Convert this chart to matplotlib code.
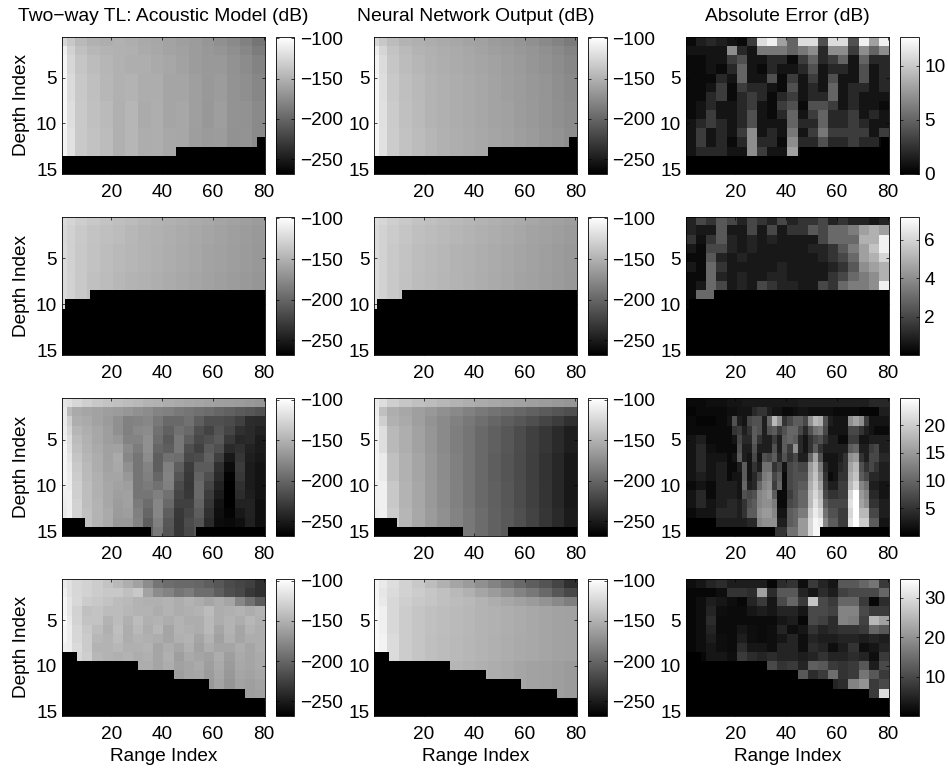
import numpy as np
import matplotlib
matplotlib.use("Agg")
import matplotlib.pyplot as plt

plt.rcParams['font.family'] = ['Liberation Sans', 'DejaVu Sans']
FS = 13.7

COL_TITLES = ["Two\u2212way TL: Acoustic Model (dB)", "Neural Network Output (dB)", "Absolute Error (dB)"]
X_TICKS = [20, 40, 60, 80]
Y_TICKS = [5, 10, 15]
TL_TICKS = [-100, -150, -200, -250]
TL_LIM = (-268, -98)
ERR_TICKS = [[0, 5, 10], [2, 4, 6], [5, 10, 15, 20], [10, 20, 30]]
ERR_LIM = [(0, 12.7), (0, 7.2), (0, 24.9), (0, 34.8)]

# seabed: (first range index, first black depth index) steps for each row of panels
FLOOR_COLS = [[1, 46, 78], [1, 2, 12], [1, 10, 36, 54], [1, 7, 31, 45, 59, 73]]
FLOOR_ROWS = [[14, 13, 12], [11, 10, 9], [14, 15, 16, 15], [9, 10, 11, 12, 13, 14]]

# block sizes of the hand-read tables (range indices / depth indices)
W17 = [2, 3, 5] + [5] * 14
W21 = [2, 2] + [4] * 19
W20 = [4] * 20
W40 = [2] * 40

TL1_MODEL_H = [1, 1, 2, 3, 3, 3, 2]
TL1_MODEL = [
    [-125,-135,-145,-150,-152,-150,-152,-155,-157,-159,-162,-164,-168,-172,-176,-182,-190],
    [-108,-128,-140,-146,-149,-150,-151,-154,-156,-159,-161,-164,-167,-169,-173,-178,-185],
    [-105,-125,-137,-143,-147,-150,-152,-152,-155,-157,-160,-164,-166,-166,-171,-175,-180],
    [-104,-122,-135,-141,-146,-150,-149,-153,-153,-158,-158,-162,-166,-164,-170,-173,-178],
    [-104,-120,-134,-140,-144,-151,-147,-154,-152,-158,-157,-162,-167,-163,-170,-171,-176],
    [-106,-118,-134,-139,-143,-151,-147,-153,-152,-156,-157,-163,-165,-164,-171,-170,-176],
    [-268]*17,
]
TL1_NN_H = TL1_MODEL_H
TL1_NN = [
    [-125,-135,-143,-148,-151,-153,-155,-157,-159,-161,-164,-166,-169,-172,-176,-181,-186],
    [-110,-126,-138,-144,-148,-151,-153,-155,-157,-159,-162,-164,-167,-169,-172,-176,-181],
    [-106,-122,-136,-143,-147,-150,-152,-154,-156,-158,-160,-163,-165,-168,-171,-174,-178],
    [-104,-120,-134,-141,-145,-149,-151,-153,-155,-157,-159,-162,-164,-167,-169,-173,-176],
    [-104,-119,-133,-140,-144,-148,-151,-153,-155,-157,-159,-161,-164,-166,-169,-172,-175],
    [-105,-118,-132,-139,-143,-147,-150,-152,-154,-156,-158,-160,-163,-165,-168,-170,-174],
    [-268]*17,
]
TL2_MODEL_H = [1, 2, 3, 4, 5]
TL2_MODEL = [
    [-122,-126,-131,-135,-138,-141,-143,-146,-148,-150,-152,-154,-156,-158,-160,-162,-164],
    [-124,-129,-134,-138,-141,-143,-146,-148,-150,-152,-154,-156,-158,-160,-162,-164,-166],
    [-123,-129,-135,-139,-142,-145,-147,-149,-151,-153,-155,-157,-159,-161,-163,-165,-167],
    [-123,-128,-135,-140,-143,-146,-148,-150,-152,-154,-156,-158,-160,-162,-164,-166,-168],
    [-268]*17,
]
TL2_NN_H = TL2_MODEL_H
TL2_NN = [
    [-121,-125,-130,-134,-138,-140,-143,-145,-147,-149,-151,-153,-155,-157,-159,-161,-163],
    [-123,-128,-133,-137,-141,-143,-145,-147,-149,-151,-153,-155,-157,-159,-161,-163,-165],
    [-122,-128,-134,-138,-142,-144,-146,-148,-150,-152,-154,-156,-158,-160,-162,-164,-166],
    [-122,-128,-134,-139,-143,-145,-147,-149,-151,-153,-155,-157,-159,-161,-163,-165,-167],
    [-268]*17,
]
TL3_MODEL = [
    [-115,-118,-125,-130,-135,-138,-140,-143,-145,-148,-150,-153,-155,-157,-158,-160,-162,-163,-164,-166,-168],
    [-112,-145,-155,-158,-160,-163,-165,-168,-172,-175,-180,-183,-187,-190,-193,-196,-200,-203,-207,-210,-213],
    [-112,-130,-152,-155,-160,-165,-172,-182,-180,-178,-188,-198,-198,-192,-205,-215,-215,-218,-225,-238,-240],
    [-110,-125,-147,-152,-157,-163,-172,-183,-177,-175,-192,-203,-192,-198,-215,-223,-212,-222,-235,-240,-245],
    [-108,-120,-143,-150,-157,-163,-167,-180,-180,-172,-195,-208,-188,-205,-220,-215,-208,-230,-242,-240,-250],
    [-105,-118,-140,-148,-155,-161,-160,-175,-185,-172,-200,-205,-188,-215,-225,-207,-215,-240,-235,-245,-250],
    [-105,-115,-137,-147,-153,-161,-155,-178,-190,-175,-205,-192,-195,-220,-217,-203,-225,-252,-232,-248,-252],
    [-105,-112,-134,-145,-153,-160,-156,-172,-190,-180,-205,-183,-205,-228,-207,-207,-235,-260,-228,-250,-255],
    [-105,-110,-132,-144,-151,-158,-158,-167,-190,-183,-200,-181,-212,-230,-202,-215,-240,-266,-230,-250,-255],
    [-107,-110,-130,-142,-150,-157,-160,-163,-190,-186,-192,-183,-218,-232,-198,-222,-245,-268,-235,-250,-255],
    [-108,-108,-130,-142,-150,-157,-162,-161,-190,-190,-183,-192,-222,-230,-197,-228,-250,-268,-238,-248,-255],
    [-110,-108,-128,-142,-148,-157,-164,-161,-186,-195,-179,-198,-225,-225,-201,-232,-255,-268,-245,-245,-258],
    [-112,-108,-128,-140,-148,-155,-165,-163,-183,-200,-179,-205,-230,-222,-206,-235,-258,-265,-252,-245,-258],
    [-268,-268,-268,-140,-148,-155,-167,-167,-180,-205,-183,-210,-232,-218,-211,-240,-260,-262,-258,-246,-258],
    [-268,-268,-268,-140,-148,-155,-167,-167,-180,-205,-187,-212,-232,-220,-211,-240,-260,-262,-258,-246,-258],
]
TL3_NN_H = [1, 1, 1, 3, 3, 3, 3]
TL3_NN = [
    [-112,-120,-130,-136,-140,-143,-146,-149,-152,-154,-156,-158,-160,-162,-164,-166,-168],
    [-110,-140,-152,-157,-162,-167,-172,-177,-182,-187,-191,-195,-199,-203,-207,-211,-215],
    [-108,-130,-150,-155,-162,-170,-176,-182,-188,-194,-200,-205,-210,-215,-222,-228,-235],
    [-106,-120,-145,-152,-160,-168,-176,-184,-190,-198,-204,-210,-217,-225,-232,-240,-248],
    [-105,-112,-140,-150,-158,-167,-175,-183,-190,-198,-205,-211,-218,-226,-234,-242,-252],
    [-108,-108,-135,-148,-157,-166,-174,-182,-190,-197,-204,-210,-217,-225,-233,-242,-252],
    [-110,-108,-132,-147,-156,-165,-172,-180,-188,-196,-203,-208,-215,-223,-232,-240,-250],
]
TL4_MODEL = [
    [-112,-118,-125,-128,-132,-138,-145,-152,-160,-175,-190,-195,-197,-198,-200,-205,-210,-218,-222,-225,-235],
    [-108,-118,-125,-128,-132,-135,-135,-140,-135,-160,-175,-180,-190,-185,-195,-195,-205,-215,-220,-230,-235],
    [-105,-115,-124,-132,-135,-138,-143,-145,-148,-151,-151,-148,-153,-148,-153,-158,-153,-158,-178,-192,-207],
    [-105,-115,-128,-140,-138,-143,-143,-146,-149,-149,-153,-148,-153,-151,-148,-143,-153,-151,-148,-153,-148],
    [-102,-112,-127,-138,-138,-148,-143,-151,-143,-151,-148,-153,-148,-153,-153,-145,-153,-148,-153,-146,-151],
    [-105,-110,-125,-135,-143,-151,-141,-153,-145,-153,-146,-158,-148,-151,-153,-145,-158,-148,-158,-149,-153],
    [-105,-110,-125,-133,-146,-148,-143,-153,-148,-151,-153,-158,-151,-149,-158,-148,-161,-151,-158,-153,-153],
    [-108,-110,-123,-133,-148,-148,-146,-151,-151,-148,-158,-153,-158,-151,-161,-153,-158,-158,-153,-158,-153],
    [-110,-112,-125,-131,-146,-149,-151,-148,-153,-151,-158,-151,-163,-155,-158,-161,-153,-163,-155,-158,-155],
    [-110,-112,-125,-131,-146,-149,-151,-148,-153,-153,-158,-153,-161,-158,-155,-163,-155,-165,-156,-158,-155],
    [-110,-112,-125,-131,-146,-149,-151,-148,-153,-153,-158,-155,-163,-158,-157,-165,-157,-167,-158,-160,-157],
    [-110,-112,-125,-131,-146,-149,-151,-148,-153,-153,-158,-155,-163,-160,-159,-167,-159,-169,-160,-162,-159],
    [-110,-112,-125,-131,-146,-149,-151,-148,-153,-153,-158,-155,-163,-160,-159,-168,-161,-169,-161,-163,-161],
]
TL4_NN_H = [1, 1, 1, 3, 3, 4]
TL4_NN = [
    [-105,-112,-120,-128,-135,-142,-150,-158,-165,-172,-180,-190,-197,-205,-212,-222,-235],
    [-104,-115,-122,-128,-132,-136,-140,-145,-150,-158,-165,-172,-180,-188,-197,-210,-220],
    [-104,-113,-124,-130,-134,-137,-140,-143,-145,-149,-153,-157,-161,-165,-170,-177,-184],
    [-103,-108,-124,-132,-137,-140,-142,-144,-146,-148,-150,-152,-154,-156,-158,-160,-161],
    [-102,-106,-122,-132,-137,-141,-143,-145,-147,-149,-151,-153,-155,-156,-158,-160,-161],
    [-102,-106,-122,-132,-138,-142,-145,-147,-149,-151,-153,-155,-158,-160,-161,-163,-165],
]
ERR1 = [
    [.5,1.5,2,1.5,1,.5,3,11,12,8,5,11,11,4,11,11,4,12,8,12],
    [1,1,1,1,7,2,1,6,6,6,5,6,7,2,7,7,3,7,5,7],
    [.5,.5,1,1,3,4,1,1,2,2,.5,3,5,2,3,5,1,5,2,2],
    [.5,.5,1,.5,2,5,1,.5,2,1,1,2,4,1,2,2,1,4,1,2],
    [.5,.5,.5,2,1,5,1,1,4,.5,3,1,3,1,4,1,1,4,1,2],
    [.5,.5,1,3,.5,3,2,2,1,.5,4,1,2,1,5,1,2,2,1,2],
    [.5,.5,2,3,.5,2,3,2,.5,2,3,1,2,2,5,1,2,1,1,1],
    [.5,1,2,1,1,2,3,1,.5,3,4,.5,4,4,3,1,2,1,1,.5],
    [.5,1,3,1,1,2,4,1,.5,2,5,1,3,5,2,2,3,1,2,1],
    [1,2,3,2,1,2,4,1,1,1,5,2,2,5,2,2,3,2,1,1],
    [1,3,1,2,1,3,7,1,2,1,6,1,3,6,3,3,3,3,1,3],
    [1,3,1,2,.5,2,7,2,2,.5,7,2,2,4,2,2,3,2,2,.5],
    [1,2,2,2,1,1,7,3,1,1,8,.5,.5,.5,.5,.5,.5,.5,.5,.5],
]
ERR2 = [
    [1,2,1.5,2.5,2,1,2,1.5,1,2,1,1.5,1.5,2,1,1.5,1,1,.7,1],
    [1,.7,.7,2.5,.7,.7,2,.7,2,.7,1.5,1.5,2.5,2,3,3,3.5,4.5,5,4.5],
    [1.5,.5,1.5,2.5,1,.7,1,.7,1,.7,.7,.7,.7,2,3,3,3,5,5,6.8],
    [.7,.3,2,2,1,.7,1,.7,.7,.7,.7,.7,1,1,1.5,2.5,3.5,4.5,5.5,6.8],
    [.3,.3,2.5,1,.7,1,.7,.7,.7,.7,.7,.7,.7,1,1.5,2,3,4.5,5,6],
    [.7,.3,3,1.5,.7,.7,.7,.7,.7,1,.7,.7,.7,.7,1,1.5,2.5,4,4.5,5],
    [.3,.3,3,1,.7,1,.7,.7,1,1,.7,.7,.7,.7,1.5,2,3,3.5,4,5],
    [.3,.7,3,2,.7,1,.7,2,1.5,1,1,.7,.7,2,1.5,3,3.5,3.5,4,6.8],
    [.3,3,3,.3,.3,.3,.3,.3,.3,.3,.3,.3,.3,.3,.3,.3,.3,.3,.3,.3],
    [.3,.3,.3,.3,.3,.3,.3,.3,.3,.3,.3,.3,.3,.3,.3,.3,.3,.3,.3,.3],
]
ERR3 = [
    [1,1,1,1,1.5,1.5,1.5,1.5,2,2,2,2.5,2.5,2.5,2.5,2.5,2.5,2.5,2.5,2.5,2.5,2.5,3,3,3,3,3,3,3,3,3,3,3,3,3,3,4,4,4,4],
    [.5,.5,1,1,1,1,1,1,1.5,1.5,2,2,2,4,5,5,3,2,2,1,1,1.5,2,2,1.5,1.5,1.5,1.5,1.5,1,1,1,1,1,.5,.5,.5,.5,3,3],
    [1,1,.5,.5,.5,.5,1,1,2,8,3,2,7,8,8,3,10,18,14,5,7,9,9,7,14,18,17,8,3,2,2,2,14,16,14,6,2,2,2,2],
    [1,1,1,1,1,1,1,1,1,5,6,3,5,9,8,3,8,9,6,8,10,10,7,4,8,11,12,7,2,2,2,2,7,7,5,3,2,1,1,1],
    [2,2,3,3,1,1,1,1,1,2,7,4,4,9,5,3,3,6,3,9,10,9,4,2,5,7,8,5,3,3,1,1,6,6,2,2,3,3,3,3],
    [2,2,4,4,1.5,1.5,1,1,1,1,8,3,3,8,3,3,3,8,3,9,6,14,4,2,5,9,5,3,3,3,3,3,9,10,3,3,6,7,3,3],
    [2,2,4,4,2,2,2,2,1,2,9,3,2,7,2,8,7,9,4,8,5,7,3,3,10,16,8,2,2,2,3,5,14,15,5,3,7,7,4,4],
    [2,2,4,4,2,2,3,3,1,1,3,9,2,5,3,11,11,5,7,2,7,8,7,7,15,18,12,4,2,2,4,5,16,18,8,5,7,5,3,3],
    [2,2,3,3,2,2,3,3,1,2,2,9,2,4,7,12,13,7,9,1,7,8,8,8,16,19,14,5,1,2,5,5,17,19,9,7,4,4,3,3],
    [1,1,2,2,1,1,3,3,3,3,2,10,3,4,10,13,14,6,10,1,7,8,9,9,17,20,16,6,3,3,6,6,18,21,13,11,3,3,2,2],
    [2,2,4,4,1,1,3,3,3,3,2,8,7,8,13,14,15,9,1,1,6,8,10,10,18,21,18,7,5,5,6,6,21,25,15,13,4,4,2,2],
    [2,2,4,4,2,2,3,3,4,4,3,5,8,9,13,14,14,12,1,1,7,8,10,10,18,22,19,9,7,7,7,7,22,25,16,14,5,5,3,3],
    [1,1,2,2,2,2,4,4,4,4,3,5,9,9,14,15,15,13,2,2,9,10,12,12,20,23,21,11,8,8,6,6,21,25,18,18,7,7,3,3],
    [0,0,0,0,0,0,3,3,3,3,3,3,4,4,13,14,14,14,3,3,9,10,15,15,21,24,23,13,9,9,6,6,22,25,20,20,9,9,2,2],
    [0,0,0,0,0,0,0,0,0,0,0,0,0,0,0,0,0,5,5,5,11,11,15,15,21,24,24,20,0,0,0,0,0,0,0,0,0,0,0,0],
]
ERR4 = [
    [2,3,5,6,4,4,4,4,1,6,7,2,8,5,3,12,12,14,16,8],
    [1,1,1,2,7,7,6,22,6,12,12,5,3,6,4,9,10,10,10,14],
    [1,2,4,3,2,1,5,8,3,10,14,8,27,10,8,14,14,8,1,6],
    [1,2,5,2,1.5,1.5,3,4,3,5,5,3,10,10,9,18,18,10,8,8],
    [1,2,6,1.5,1.5,1.5,1.5,1.5,1.5,3,4,1,10,9,6,18,17,9,25,22],
    [1,2,5,1.5,1.5,3,2,1.5,2,5,2,3,7,5,6,7,7,8,14,12],
    [1,2,4,2,1.5,4,2,1.5,2,3,5,2,5,4,4,5,5,4,5,4],
    [1,2,3,2,1.5,6,3,3,2,5,5,2,6,5,2,4,7,2,3,5],
    [0,1,3,3,2,8,6,5,6,5,5,4,5,7,5,5,6,5,2,8],
    [0,0,0,0,0,0,0,0,10,7,8,5,13,12,8,7,8,12,4,10],
    [0,0,0,0,0,0,0,0,0,0,0,12,6,8,15,7,8,16,12,8],
    [0,0,0,0,0,0,0,0,0,0,0,0,0,0,5,6,18,20,8,10],
    [0,0,0,0,0,0,0,0,0,0,0,0,0,0,0,0,0,0,8,30],
]

PANELS = [
    [(TL1_MODEL, W17, TL1_MODEL_H), (TL1_NN, W17, TL1_NN_H), (ERR1, W20, [1]*13)],
    [(TL2_MODEL, W17, TL2_MODEL_H), (TL2_NN, W17, TL2_NN_H), (ERR2, W20, [1]*10)],
    [(TL3_MODEL, W21, [1]*15), (TL3_NN, W17, TL3_NN_H), (ERR3, W40, [1]*15)],
    [(TL4_MODEL, W21, [1]*13), (TL4_NN, W17, TL4_NN_H), (ERR4, W20, [1]*13)],
]

W, H = 948, 770
AX_X = [(62, 265), (374.3, 576.7), (686, 889)]
CB_X = [(275.7, 294.3), (587.7, 606.5), (900, 918.7)]
AX_Y = [(36.7, 173.7), (216.7, 355), (398.3, 535.7), (579, 716)]

def expand(table, widths, heights, floor_cols, floor_rows, low):
    grid = np.repeat(np.repeat(np.array(table, float), heights, axis=0), widths, axis=1)
    grid = np.vstack([grid, np.full((15 - grid.shape[0], 80), low)]) if grid.shape[0] < 15 else grid
    ends = floor_cols[1:] + [81]
    for start, end, row in zip(floor_cols, ends, floor_rows):
        grid[row - 1:, start - 1:end - 1] = low
    return grid

def rect(x, y):
    return [x[0] / W, 1 - y[1] / H, (x[1] - x[0]) / W, (y[1] - y[0]) / H]

def style(ax):
    for s in ax.spines.values():
        s.set_linewidth(0.6)
    ax.tick_params(direction='in', length=2, width=0.5, top=True, right=True, labelsize=FS)
    ax.tick_params(axis='x', pad=7.5)
    ax.tick_params(axis='y', pad=3.5)

fig = plt.figure(figsize=(W / 100, H / 100), dpi=100)
for r in range(4):
    for c in range(3):
        table, widths, heights = PANELS[r][c]
        lim = TL_LIM if c < 2 else ERR_LIM[r]
        ticks = TL_TICKS if c < 2 else ERR_TICKS[r]
        grid = expand(table, widths, heights, FLOOR_COLS[r], FLOOR_ROWS[r], lim[0])
        ax = fig.add_axes(rect(AX_X[c], AX_Y[r]))
        im = ax.imshow(grid, cmap='gray', vmin=lim[0], vmax=lim[1], aspect='auto',
                       interpolation='nearest', extent=[0.5, 80.5, 15.5, 0.5])
        ax.set_xticks(X_TICKS)
        ax.set_yticks(Y_TICKS)
        style(ax)
        if r == 0:
            ax.set_title(COL_TITLES[c], fontsize=13.85, pad=11)
        if r == 3:
            ax.set_xlabel("Range Index", fontsize=FS, labelpad=3.5)
        if c == 0:
            ax.set_ylabel("Depth Index", fontsize=FS, labelpad=4)
        cax = fig.add_axes(rect(CB_X[c], AX_Y[r]))
        cb = fig.colorbar(im, cax=cax)
        cb.set_ticks(ticks)
        cb.outline.set_linewidth(0.6)
        cax.tick_params(direction='in', length=2, width=0.5, left=True, right=True,
                        labelsize=FS, pad=4)

fig.savefig("out.png", dpi=100)
